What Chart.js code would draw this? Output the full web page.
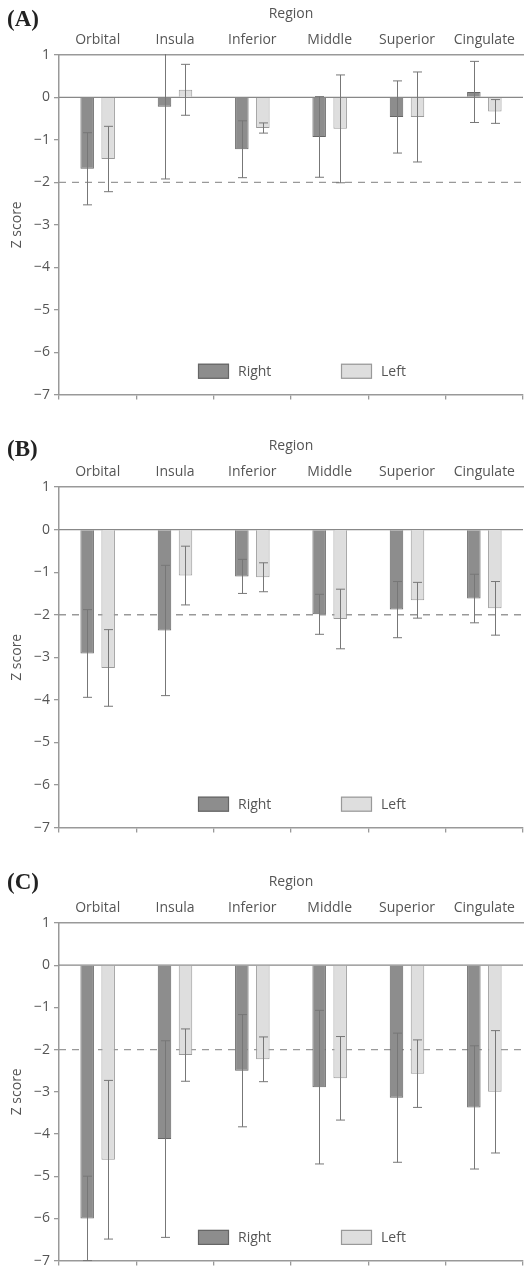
<!DOCTYPE html>
<html>
<head>
<meta charset="utf-8">
<script src="https://cdn.jsdelivr.net/npm/chart.js@4.4.1/dist/chart.umd.min.js"></script>
<style>
  html, body { margin: 0; padding: 0; background: #fff; overflow: hidden; }
  body { width: 529px; height: 1273px; position: relative; }
  .panel { position: absolute; left: 0; width: 529px; }
  .tag { position: absolute; left: 7px; font: bold 23px "Liberation Serif", "DejaVu Serif", serif; color: #222; }
</style>
</head>
<body>
<div class="panel" style="top:0px;height:407px"><canvas id="chartA"></canvas></div>
<div class="panel" style="top:432px;height:408px"><canvas id="chartB"></canvas></div>
<div class="panel" style="top:868px;height:405px"><canvas id="chartC"></canvas></div>
<div class="tag" style="top:6px">(A)</div>
<div class="tag" style="top:436px">(B)</div>
<div class="tag" style="top:869px">(C)</div>

<script>
// datos
const regiones = ["Orbital", "Insula", "Inferior", "Middle", "Superior", "Cingulate"];
const yTicks = [1, 0, -1, -2, -3, -4, -5, -6, -7];

// (A)
const aRight = [-1.68, -0.22, -1.22, -0.93, -0.46, 0.13];
const aRightSd = [0.85, 1.70, 0.67, 0.95, 0.85, 0.72];
const aLeft = [-1.45, 0.18, -0.72, -0.74, -0.46, -0.33];
const aLeftSd = [0.77, 0.60, 0.12, 1.27, 1.06, 0.28];

// (B)
const bRight = [-2.91, -2.37, -1.10, -1.99, -1.88, -1.62];
const bRightSd = [1.03, 1.53, 0.40, 0.47, 0.66, 0.57];
const bLeft = [-3.25, -1.08, -1.12, -2.10, -1.66, -1.85];
const bLeftSd = [0.90, 0.69, 0.34, 0.70, 0.42, 0.63];

// (C)
const cRight = [-6.00, -4.12, -2.50, -2.89, -3.14, -3.37];
const cRightSd = [1.00, 2.33, 1.33, 1.82, 1.53, 1.46];
const cLeft = [-4.61, -2.13, -2.23, -2.68, -2.57, -3.00];
const cLeftSd = [1.88, 0.62, 0.53, 0.99, 0.80, 1.45];

const umbral = -2;
const legendaY = -6.45;

Chart.defaults.font.family = "'Open Sans', 'Noto Sans', sans-serif";
Chart.defaults.color = "#555";

const gris = "#999";

// barras de error, linea de umbral, linea cero y leyenda
const extrasPlugin = {
  id: "extras",
  beforeDatasetsDraw(chart) {
    const { ctx, chartArea } = chart;
    const y = chart.scales.y;
    ctx.save();
    ctx.strokeStyle = gris;
    ctx.lineWidth = 1.3;
    ctx.setLineDash([7, 6]);
    const yp = y.getPixelForValue(umbral);
    ctx.beginPath();
    ctx.moveTo(chartArea.left, yp);
    ctx.lineTo(chartArea.right, yp);
    ctx.stroke();
    ctx.setLineDash([]);
    ctx.strokeStyle = "#888";
    const y0 = y.getPixelForValue(0);
    ctx.beginPath();
    ctx.moveTo(chartArea.left, y0);
    ctx.lineTo(chartArea.right, y0);
    ctx.stroke();
    ctx.restore();
  },
  afterDatasetsDraw(chart) {
    const { ctx, chartArea } = chart;
    const y = chart.scales.y;
    ctx.save();
    ctx.beginPath();
    ctx.rect(chartArea.left, chartArea.top - 1, chartArea.right - chartArea.left, chartArea.bottom - chartArea.top + 2);
    ctx.clip();
    ctx.strokeStyle = "#777";
    ctx.lineWidth = 1;
    chart.data.datasets.forEach((ds, i) => {
      const meta = chart.getDatasetMeta(i);
      meta.data.forEach((bar, j) => {
        const m = ds.data[j];
        const s = ds.sd[j];
        const x = Math.round(bar.x) + 0.5;
        const top = y.getPixelForValue(m + s);
        const bot = y.getPixelForValue(m - s);
        ctx.beginPath();
        ctx.moveTo(x, top);
        ctx.lineTo(x, bot);
        ctx.moveTo(x - 4.5, top);
        ctx.lineTo(x + 4.5, top);
        ctx.moveTo(x - 4.5, bot);
        ctx.lineTo(x + 4.5, bot);
        ctx.stroke();
      });
    });
    ctx.restore();

    // leyenda
    ctx.save();
    const ly = y.getPixelForValue(legendaY);
    const offsets = [139, 282];
    chart.data.datasets.forEach((ds, i) => {
      const bx = chartArea.left + offsets[i];
      ctx.fillStyle = ds.backgroundColor;
      ctx.strokeStyle = ds.borderColor;
      ctx.lineWidth = 1.2;
      ctx.fillRect(bx, ly - 7.5, 31, 15);
      ctx.strokeRect(bx + 0.5, ly - 7, 30, 14);
      ctx.fillStyle = "#555";
      ctx.font = "14px 'Open Sans', sans-serif";
      ctx.textBaseline = "middle";
      ctx.fillText(ds.label, bx + 40, ly + 1);
    });
    ctx.restore();
  },
};

const crearGrafico = (id, right, rightSd, left, leftSd) => {
  const ctx = document.getElementById(id).getContext("2d");
  return new Chart(ctx, {
    type: "bar",
    data: {
      labels: regiones,
      datasets: [
        {
          label: "Right",
          data: right,
          sd: rightSd,
          backgroundColor: "#8d8d8d",
          borderColor: "#666",
          borderWidth: 1,
          categoryPercentage: 0.543,
          barPercentage: 0.643,
        },
        {
          label: "Left",
          data: left,
          sd: leftSd,
          backgroundColor: "#dedede",
          borderColor: "#999",
          borderWidth: 1,
          categoryPercentage: 0.543,
          barPercentage: 0.643,
        },
      ],
    },
    options: {
      responsive: true,
      maintainAspectRatio: false,
      animation: false,
      layout: { padding: { left: 0, right: 6, top: 0, bottom: 0 } },
      plugins: {
        legend: { display: false },
        tooltip: { enabled: false },
      },
      scales: {
        x: {
          type: "category",
          position: "top",
          offset: true,
          grid: { display: false, drawTicks: false },
          border: { display: true, color: gris, width: 1.5 },
          ticks: { font: { size: 14 }, color: "#555", padding: 7, maxRotation: 0, autoSkip: false },
          title: { display: true, text: "Region", font: { size: 14 }, color: "#555", padding: { top: 6, bottom: 0 } },
          afterFit: (scale) => { scale.height = 55; },
        },
        x2: {
          type: "category",
          labels: regiones,
          position: "bottom",
          offset: true,
          grid: { offset: true, drawOnChartArea: false, drawTicks: true, tickLength: 5, tickColor: gris, lineWidth: 1.3 },
          border: { display: true, color: gris, width: 1.5 },
          ticks: { callback: () => "", padding: 0 },
          afterFit: (scale) => { scale.height = 10; },
        },
        y: {
          min: -7,
          max: 1,
          afterBuildTicks: (scale) => { scale.ticks = yTicks.map((v) => ({ value: v })); },
          ticks: {
            font: { size: 14 },
            color: "#555",
            padding: 4,
            callback: (v) => String(v).replace("-", "\u2212"),
          },
          grid: { drawOnChartArea: false, drawTicks: true, tickLength: 5, tickColor: gris, lineWidth: 1.3 },
          border: { display: true, color: gris, width: 1.5 },
          title: { display: true, text: "Z score", font: { size: 14 }, color: "#555", padding: { top: 9, bottom: 0 } },
          afterFit: (scale) => { scale.width = 59; },
        },
      },
    },
    plugins: [extrasPlugin],
  });
};

crearGrafico("chartA", aRight, aRightSd, aLeft, aLeftSd);
crearGrafico("chartB", bRight, bRightSd, bLeft, bLeftSd);
crearGrafico("chartC", cRight, cRightSd, cLeft, cLeftSd);
</script>
</body>
</html>
